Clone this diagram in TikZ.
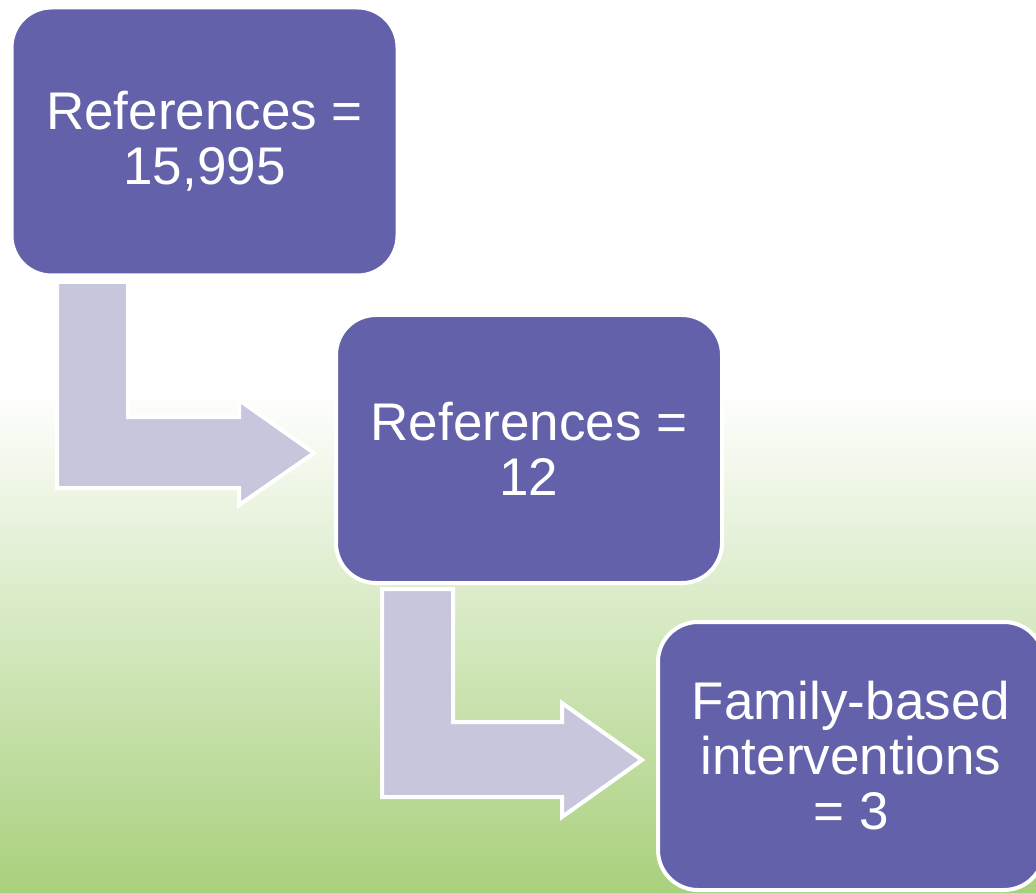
\documentclass[tikz,border=0pt]{standalone}
\usepackage{fontspec}
\setmainfont{Liberation Sans}
\definecolor{boxpurple}{HTML}{6461AB}
\definecolor{arrowlav}{HTML}{C8C6DD}
\definecolor{bggreen}{HTML}{A8D07C}
\definecolor{bgmid}{HTML}{E4EED6}
\begin{document}
\begin{tikzpicture}[x=1pt,y=-1pt,
  stepbox/.style={rectangle, rounded corners=40pt, fill=boxpurple, draw=white, line width=4pt,
    minimum width=386pt, minimum height=268pt, text=white, align=center,
    font=\fontsize{53}{55}\selectfont, inner sep=0pt},
  bentarrow/.style={fill=arrowlav, draw=white, line width=4pt, line join=miter}]
\useasboundingbox (0,0) rectangle (1036,893);
\begin{scope}
\clip (0,0) rectangle (1036,893);
\fill[white] (0,0) rectangle (1036,893);
\shade[top color=white, middle color=bgmid, bottom color=bggreen] (0,390) rectangle (1036,893);
\node[stepbox] (b1) at (204.5,141.5) {References =\\15,995};
\node[stepbox] (b2) at (529,449) {References =\\12};
\node[stepbox] (b3) at (851,756) {Family-based\\interventions\\= 3};
\draw[bentarrow] (57,282) -- (128,282) -- (128,417) -- (239,417) -- (239,400) -- (314,453)
  -- (239,505) -- (239,488) -- (57,488) -- cycle;
\draw[bentarrow] (382,589) -- (453,589) -- (453,722) -- (562,722) -- (562,703) -- (642,760)
  -- (562,817) -- (562,797) -- (382,797) -- cycle;
\end{scope}
\end{tikzpicture}
\end{document}
